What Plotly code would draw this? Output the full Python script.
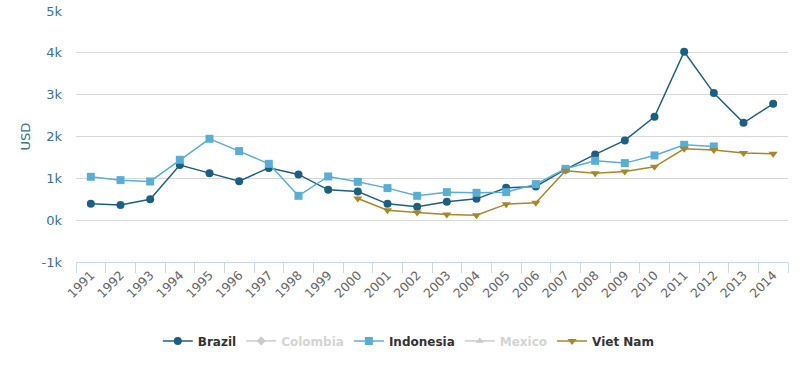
import plotly.graph_objects as go

years = [str(y) for y in range(1991, 2015)]

brazil = [390, 360, 500, 1316, 1124, 933, 1250, 1093, 725, 686, 390, 318,
          438, 510, 773, 806, 1213, 1572, 1907, 2471, 4026, 3038, 2328, 2782]
indonesia = [1037, 957, 925, 1443, 1945, 1651, 1347, 582, 1045, 917, 766, 582,
             670, 654, 670, 861, 1228, 1419, 1364, 1547, 1802, 1762, None, None]
vietnam = [None] * 9 + [518, 239, 183, 136, 120, 383, 415, 1180, 1124, 1165,
                        1276, 1706, 1675, 1603, 1586]
# hidden series (toggled off in the legend)
colombia = [None] * 24
mexico = [None] * 24

ytickvals = [-1000, 0, 1000, 2000, 3000, 4000, 5000]
yticktext = ["-1k", "0k", "1k", "2k", "3k", "4k", "5k"]

FONT = "DejaVu Sans"

fig = go.Figure()
fig.add_trace(go.Scatter(x=years, y=brazil, name="Brazil", mode="lines+markers",
                         line=dict(color="#1d5f80", width=1.5),
                         marker=dict(symbol="circle", size=8, color="#1d5f80")))
fig.add_trace(go.Scatter(x=years, y=colombia,
                         name='<span style="color:#aaaaaa">Colombia</span>',
                         mode="lines+markers", visible="legendonly",
                         line=dict(color="#999999", width=1.5),
                         marker=dict(symbol="diamond", size=7, color="#999999")))
fig.add_trace(go.Scatter(x=years, y=indonesia, name="Indonesia", mode="lines+markers",
                         line=dict(color="#5aaed6", width=1.5),
                         marker=dict(symbol="square", size=8, color="#5aaed6")))
fig.add_trace(go.Scatter(x=years, y=mexico,
                         name='<span style="color:#aaaaaa">Mexico</span>',
                         mode="lines+markers", visible="legendonly",
                         line=dict(color="#999999", width=1.5),
                         marker=dict(symbol="triangle-up", size=7, color="#999999")))
fig.add_trace(go.Scatter(x=years, y=vietnam, name="Viet Nam", mode="lines+markers",
                         line=dict(color="#a8862a", width=1.5),
                         marker=dict(symbol="triangle-down", size=8, color="#a8862a")))

fig.update_layout(
    width=800, height=365,
    margin=dict(l=76, r=12, t=11, b=103),
    plot_bgcolor="white", paper_bgcolor="white",
    font=dict(family=FONT, size=12, color="#333333"),
    showlegend=True,
    legend=dict(orientation="h", xref="container", yref="container",
                x=0.511, y=0.066, xanchor="center", yanchor="middle",
                font=dict(family=FONT, size=12, color="#333333", weight="bold"),
                itemwidth=30, tracegroupgap=0),
    xaxis=dict(type="category", categoryorder="array", categoryarray=years,
               tickangle=-45, tickfont=dict(family=FONT, size=12.5, color="#666666"),
               showgrid=False, showline=True, linecolor="#ccd6eb", linewidth=1,
               ticks="outside", tickson="boundaries", ticklen=10, tickcolor="#ccd6eb",
               range=[-0.5, len(years) - 0.5], zeroline=False, automargin=False),
    yaxis=dict(range=[-1000, 5000], tickvals=ytickvals, ticktext=yticktext,
               tickfont=dict(family=FONT, size=13, color="#3a7090"),
               showgrid=True, gridcolor="#d8d8d8", gridwidth=1, zeroline=False,
               ticklabelstandoff=13, automargin=False,
               title=dict(text="USD", font=dict(family=FONT, size=13, color="#3a7090"),
                          standoff=7)),
)

fig.write_html("out.html")
